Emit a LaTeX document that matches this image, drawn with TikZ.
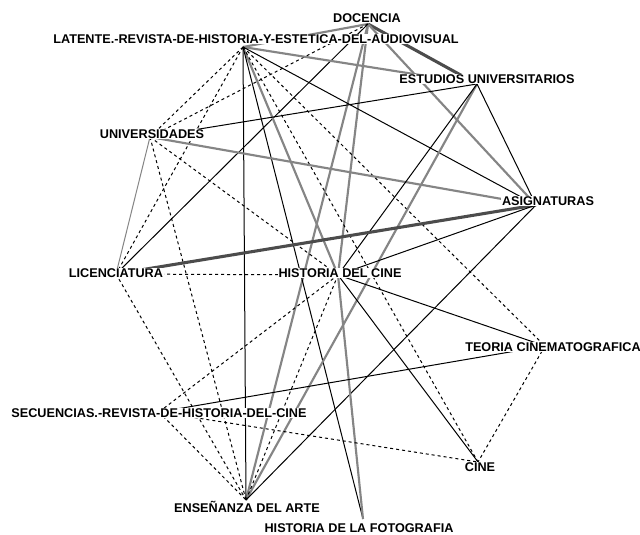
\documentclass[tikz,border=0pt]{standalone}
\usepackage{fontspec}
\setmainfont{Liberation Sans}
\definecolor{tiegray}{gray}{0.52}
\definecolor{tiedark}{gray}{0.30}

\begin{document}
\begin{tikzpicture}[x=0.75pt,y=-0.75pt,
  term/.style={fill=white,inner sep=0.6pt,font=\fontsize{9.5}{11}\selectfont\bfseries},
  thin tie/.style={black,line width=0.75pt},
  weak tie/.style={black,line width=0.75pt,dash pattern=on 2.25pt off 2.25pt},
  mid tie/.style={tiegray,line width=1.6pt},
  strong tie/.style={tiedark,line width=2.3pt}]

  \useasboundingbox[fill=white] (0,0) rectangle (640,535);

  % vertex points
  \coordinate (doc) at (368,24);
  \coordinate (lat) at (243,47);
  \coordinate (est) at (477,84);
  \coordinate (univ) at (150,137);
  \coordinate (asig) at (536,205);
  \coordinate (lic) at (116,274);
  \coordinate (hcine) at (338,275);
  \coordinate (teoria) at (545,346);
  \coordinate (sec) at (159,412);
  \coordinate (cine) at (478,462);
  \coordinate (ense) at (246,500);
  \coordinate (foto) at (363,519);

  % ties
  \path (doc) edge[strong tie] (est)
              edge[mid tie] (lat)
              edge[mid tie] (ense)
              edge[mid tie] (hcine)
              edge[mid tie] (asig)
              edge[thin tie] (lic)
              edge[weak tie] (univ);
  \path (lat) edge[mid tie] (est)
              edge[mid tie] (hcine)
              edge[thin tie] (ense)
              edge[thin tie] (foto)
              edge[thin tie] (asig)
              edge[weak tie] (univ)
              edge[weak tie] (lic)
              edge[weak tie] (teoria)
              edge[weak tie] (cine);
  \path (univ) edge[mid tie] (asig)
               edge[thin tie] (est)
               edge[thin tie,tiegray] (lic)
               edge[weak tie] (hcine)
               edge[weak tie] (ense);
  \path (est) edge[mid tie] (ense)
              edge[thin tie] (hcine)
              edge[thin tie] (asig);
  \path (asig) edge[strong tie] (lic)
               edge[thin tie] (hcine)
               edge[thin tie] (ense);
  \path (hcine) edge[mid tie] (foto)
                edge[thin tie] (teoria)
                edge[thin tie] (cine)
                edge[weak tie] (lic)
                edge[weak tie] (sec)
                edge[weak tie] (ense);
  \path (lic) edge[weak tie] (ense);
  \path (sec) edge[thin tie] (teoria)
              edge[weak tie] (cine)
              edge[weak tie] (ense);
  \path (teoria) edge[weak tie] (cine);

  % labels
  \node[term] (docL) at (367,18) {DOCENCIA};
  \node[term] (latL) at (256,39) {LATENTE.-REVISTA-DE-HISTORIA-Y-ESTETICA-DEL-AUDIOVISUAL};
  \node[term] (estL) at (487,79) {ESTUDIOS UNIVERSITARIOS};
  \node[term] (univL) at (152,134) {UNIVERSIDADES};
  \node[term] (asigL) at (548,201) {ASIGNATURAS};
  \node[term] (licL) at (116,273) {LICENCIATURA};
  \node[term] (hcineL) at (340,273) {HISTORIA DEL CINE};
  \node[term] (teoriaL) at (553,347) {TEORIA CINEMATOGRAFICA};
  \node[term] (secL) at (159,413) {SECUENCIAS.-REVISTA-DE-HISTORIA-DEL-CINE};
  \node[term] (cineL) at (480,467) {CINE};
  \node[term] (enseL) at (247,507) {ENSEÑANZA DEL ARTE};
  \node[term] (fotoL) at (359,528) {HISTORIA DE LA FOTOGRAFIA};

\end{tikzpicture}
\end{document}
